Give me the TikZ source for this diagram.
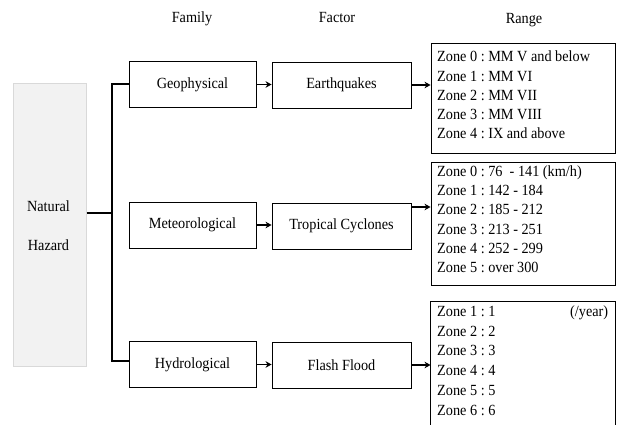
\documentclass[tikz,border=0pt]{standalone}
\usepackage{fontspec}
\setmainfont[FakeStretch=0.92]{Liberation Serif}
\usetikzlibrary{arrows.meta}
\frenchspacing
\tikzset{
  txt/.style={font=\fontsize{15.5}{19.2}\selectfont, inner sep=0pt},
  famstyle/.style={draw, line width=0.9pt, minimum width=127pt, minimum height=46pt, inner sep=0pt, font=\fontsize{15.5}{18}\selectfont},
  facstyle/.style={draw, line width=0.9pt, minimum width=139pt, minimum height=46pt, inner sep=0pt, font=\fontsize{15.5}{18}\selectfont},
  rangebox/.style={draw, line width=0.9pt, minimum width=184pt, inner sep=0pt},
  trunk/.style={line width=2pt},
  arr/.style={line width=1.4pt, -{Stealth[length=6pt,width=6.5pt]}},
}
\begin{document}
\begin{tikzpicture}[x=1pt,y=-1pt]
\useasboundingbox (0,0) rectangle (621,425);
% headers
\node[txt, anchor=base] (hfam) at (192,23) {Family};
\node[txt, anchor=base] (hfac) at (337,23) {Factor};
\node[txt, anchor=base] (hran) at (524,24) {Range};
% natural hazard
\node[draw=gray!30, fill=gray!10, line width=0.9pt, minimum width=73pt, minimum height=283pt, inner sep=0pt] (nh) at (50,224.5) {};
\node[txt, anchor=base] (nht1) at (48.5,211.5) {Natural};
\node[txt, anchor=base] (nht2) at (48.5,250) {Hazard};
\coordinate (nhj) at (86.5,212.5);
\coordinate (tr) at (112,0);
% family
\node[famstyle] (geo) at (192.5,84.5) {Geophysical};
\node[famstyle] (met) at (192.5,225) {Meteorological};
\node[famstyle] (hyd) at (192.5,364.5) {Hydrological};
% factor
\node[facstyle] (eq) at (341.5,85) {Earthquakes};
\node[facstyle] (tc) at (341.5,226) {Tropical Cyclones};
\node[facstyle] (ff) at (341.5,365) {Flash Flood};
% range boxes
\node[rangebox, minimum height=110pt] (r1) at (523,98) {};
\node[rangebox, minimum height=123pt] (r2) at (523,223.5) {};
\node[rangebox, minimum height=128pt, draw=none] (r3) at (523,366) {};
\draw[line width=0.9pt] (r3.south west) -- (r3.north west) -- (r3.north east) -- (r3.south east);
\node[txt, anchor=base west] (t1) at (437,62) {\parbox[t]{172pt}{\fontsize{15.5}{19.2}\selectfont\raggedright
Zone 0 : MM V and below\\
Zone 1 : MM VI\\
Zone 2 : MM VII\\
Zone 3 : MM VIII\\
Zone 4 : IX and above}};
\node[txt, anchor=base west] (t2) at (437,176.5) {\parbox[t]{172pt}{\fontsize{15.5}{19.2}\selectfont\raggedright
Zone 0 : 76\ \ - 141 (km/h)\\
Zone 1 : 142 - 184\\
Zone 2 : 185 - 212\\
Zone 3 : 213 - 251\\
Zone 4 : 252 - 299\\
Zone 5 : over 300}};
\node[txt, anchor=base west] (t3) at (437,316.5) {\parbox[t]{171pt}{\fontsize{15.5}{19.7}\selectfont\raggedright
Zone 1 : 1\hfill(/year)\\
Zone 2 : 2\\
Zone 3 : 3\\
Zone 4 : 4\\
Zone 5 : 5\\
Zone 6 : 6}};
% connectors
\draw[trunk] (nhj) -- (nhj -| tr);
\draw[trunk] (geo.west) -- (geo.west -| tr) -- ([yshift=3.5pt]hyd.west -| tr) -- ([yshift=3.5pt]hyd.west);
\draw[arr] (geo.east) -- (geo.east -| eq.west);
\draw[arr] (met.east) -- (met.east -| tc.west);
\draw[arr] (hyd.east) -- (hyd.east -| ff.west);
\draw[arr] (eq.east) -- (eq.east -| r1.west);
\draw[arr] ([yshift=19pt]tc.east) -- ([yshift=19pt]tc.east -| r2.west);
\draw[arr] (ff.east) -- (ff.east -| r3.west);
\end{tikzpicture}
\end{document}
